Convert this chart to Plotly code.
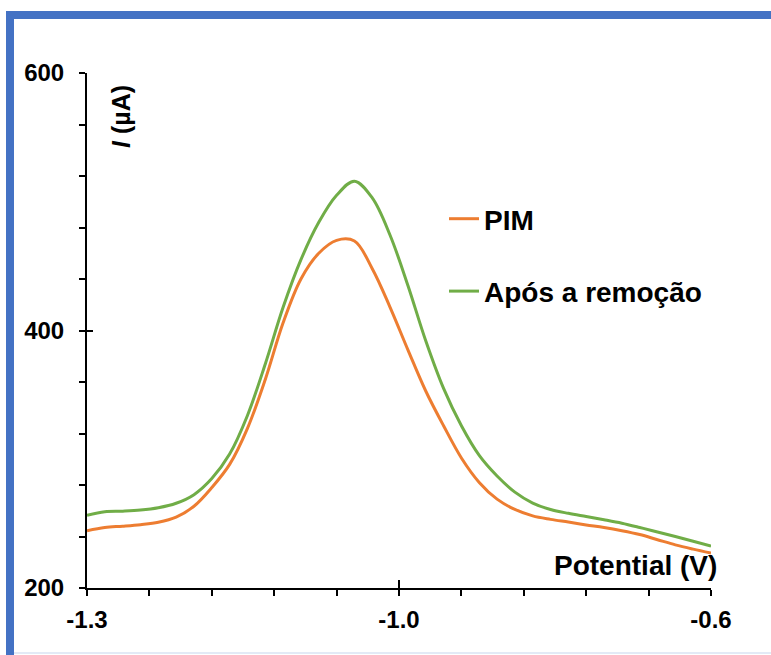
import plotly.graph_objects as go

# ---- data (potential in V, current in µA) ----
potential = [-1.30, -1.28, -1.26, -1.24, -1.22, -1.20, -1.18, -1.16, -1.14, -1.12,
             -1.10, -1.08, -1.06, -1.04, -1.02, -1.00, -0.98, -0.96, -0.94, -0.92,
             -0.90, -0.88, -0.86, -0.84, -0.82, -0.80, -0.78, -0.76, -0.74, -0.72,
             -0.70, -0.68, -0.66, -0.64, -0.62, -0.60]
pim_i = [244.5, 247.0, 248.0, 249.2, 251.0, 255.0, 263.5, 278.0, 296.0, 324.0,
         362.0, 406.0, 440.0, 460.0, 470.0, 469.5, 448.0, 418.0, 385.0, 353.0,
         326.0, 301.0, 282.0, 269.0, 261.0, 256.0, 253.3, 251.2, 249.0, 247.0,
         244.5, 241.5, 237.5, 233.5, 230.2, 227.2]
after_i = [256.5, 259.3, 259.7, 260.5, 262.3, 265.8, 272.5, 285.0, 304.0, 334.0,
           374.0, 418.0, 455.0, 484.0, 505.0, 516.0, 503.0, 474.0, 435.0, 392.0,
           355.0, 326.0, 303.0, 287.0, 274.5, 266.0, 261.0, 258.0, 255.5, 253.0,
           250.3, 247.0, 243.5, 240.0, 236.3, 232.5]

series_names = ["PIM", "Após a remoção"]
x_tickvals = [-1.3, -0.95, -0.6]
x_ticktext = ["-1.3", "-1.0", "-0.6"]
x_range = [-1.3, -0.6]
y_range = [200, 600]
y_tickvals = [200, 400, 600]

FONT = "Liberation Sans, Arial, sans-serif"
ORANGE = "#ED7D31"
GREEN = "#70AD47"

fig = go.Figure()
fig.add_trace(go.Scatter(x=potential, y=pim_i, mode="lines", name=series_names[0],
                         line=dict(color=ORANGE, width=3, shape="spline", smoothing=1.0),
                         legendgroup="a"))
fig.add_trace(go.Scatter(x=potential, y=after_i, mode="lines", name=series_names[1],
                         line=dict(color=GREEN, width=3, shape="spline", smoothing=1.0),
                         legendgroup="b"))

W, H = 771, 655
L, R, T, B = 87, 60, 73, 67
pw, ph = W - L - R, H - T - B

def px(x):
    return (x - L) / pw

def py(y):
    return (H - B - y) / ph

tickfont = dict(family=FONT, size=24, color="black", weight="bold")

fig.update_layout(
    width=W, height=H,
    margin=dict(l=L, r=R, t=T, b=B),
    plot_bgcolor="white", paper_bgcolor="white",
    showlegend=True,
    legend=dict(x=px(444), y=py(194), xanchor="left", yanchor="top",
                font=dict(family=FONT, size=28, color="black", weight="bold"),
                bgcolor="rgba(0,0,0,0)", tracegroupgap=33, itemwidth=30),
    xaxis=dict(range=x_range, showgrid=False, zeroline=False, showline=True,
               linecolor="black", linewidth=2,
               tickmode="array", tickvals=x_tickvals, ticktext=x_ticktext,
               ticks="outside", ticklen=6, tickwidth=2, tickcolor="black",
               tickfont=tickfont, ticklabelstandoff=3,
               minor=dict(tickmode="linear", tick0=-1.3, dtick=0.07, ticks="outside",
                          ticklen=6, tickwidth=2, tickcolor="black")),
    yaxis=dict(range=y_range, showgrid=False, zeroline=False, showline=True,
               linecolor="black", linewidth=2,
               tickmode="array", tickvals=y_tickvals,
               ticks="outside", ticklen=6, tickwidth=2, tickcolor="black",
               tickfont=tickfont, ticklabelstandoff=10,
               minor=dict(tickmode="linear", tick0=200, dtick=40, ticks="outside",
                          ticklen=6, tickwidth=2, tickcolor="black")),
    xaxis2=dict(range=x_range, overlaying="x", anchor="y", side="bottom",
                showgrid=False, zeroline=False, showline=False,
                tickmode="array", tickvals=x_tickvals, ticks="inside", ticklen=8,
                tickwidth=2, tickcolor="black", showticklabels=False),
    yaxis2=dict(range=y_range, overlaying="y", anchor="x", side="left",
                showgrid=False, zeroline=False, showline=False,
                tickmode="array", tickvals=y_tickvals, ticks="inside", ticklen=6,
                tickwidth=2, tickcolor="black", showticklabels=False),
)

# invisible trace so the overlay axes render
fig.add_trace(go.Scatter(x=[x_range[0]], y=[y_range[0]], xaxis="x2", yaxis="y2",
                         mode="markers", marker=dict(opacity=0), showlegend=False,
                         hoverinfo="skip"))

fig.add_annotation(text="<i>I</i> (µA)", xref="paper", yref="paper",
                   x=px(121), y=py(117), xanchor="center", yanchor="middle",
                   textangle=-90, showarrow=False,
                   font=dict(family=FONT, size=25, color="black", weight="bold"))
fig.add_annotation(text="Potential (V)", xref="paper", yref="paper",
                   x=px(719), y=py(565), xanchor="right", yanchor="middle", showarrow=False,
                   font=dict(family=FONT, size=28, color="black", weight="bold"))

BLUE = "#4472C4"
fig.add_shape(type="rect", xref="paper", yref="paper", x0=px(6), x1=px(771), y0=py(19), y1=py(11),
              fillcolor=BLUE, line=dict(width=0), layer="above")
fig.add_shape(type="rect", xref="paper", yref="paper", x0=px(6), x1=px(14), y0=py(655), y1=py(11),
              fillcolor=BLUE, line=dict(width=0), layer="above")
fig.add_shape(type="line", xref="paper", yref="paper", x0=px(14), x1=px(771), y0=py(653), y1=py(653),
              line=dict(color="#DAE3F3", width=1.5), layer="above")

fig.write_html("out.html")
